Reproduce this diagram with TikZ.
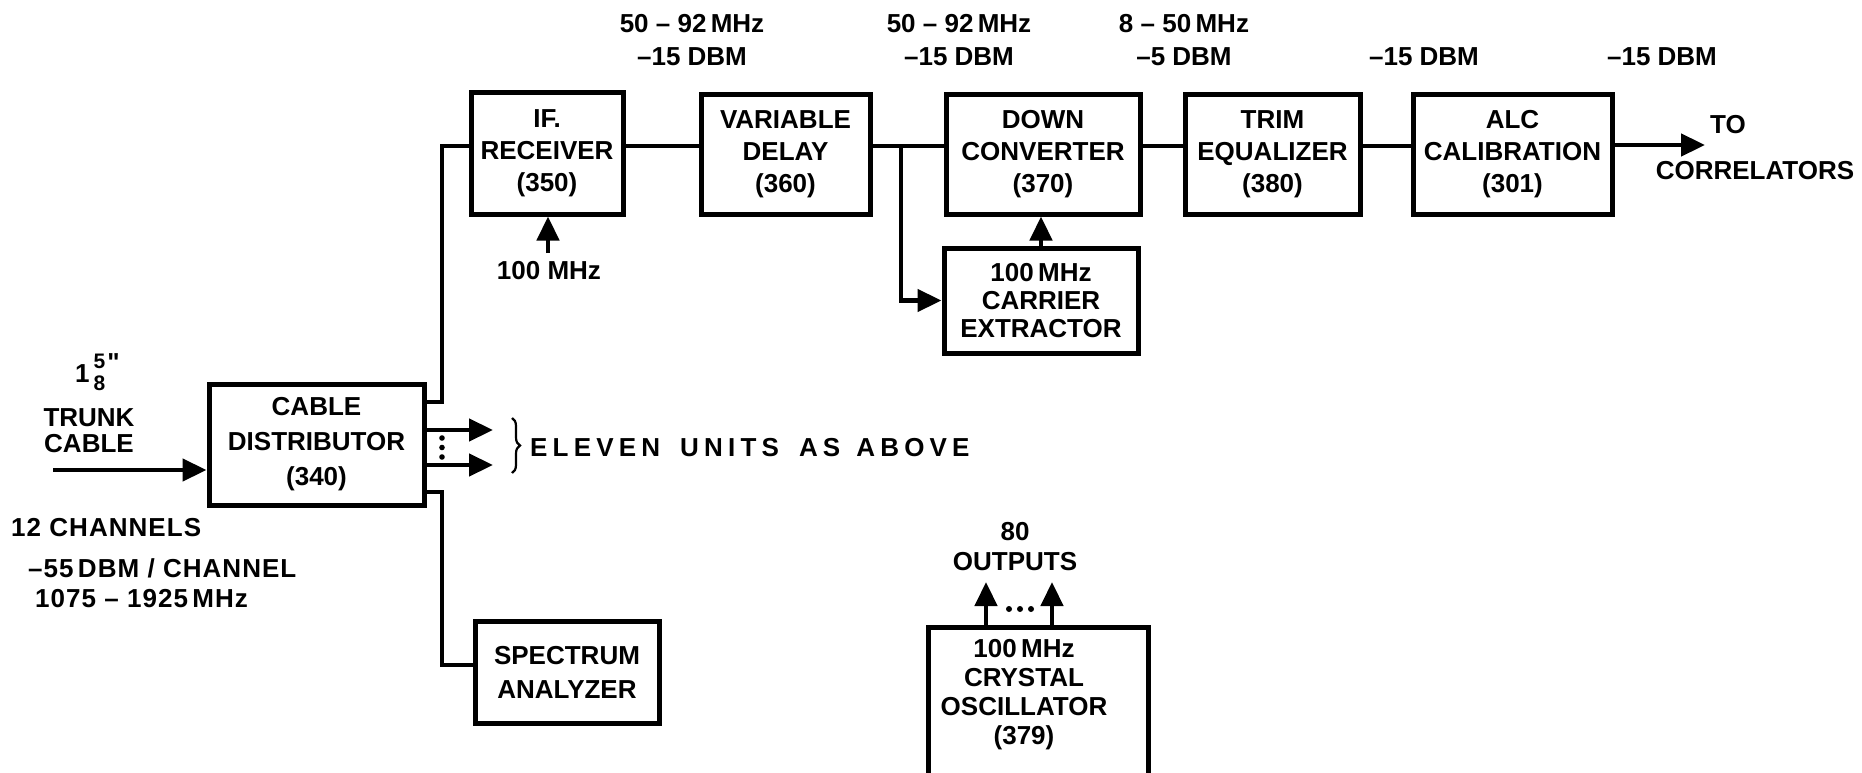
\documentclass[tikz,border=0pt]{standalone}
\usepackage{fontspec}
\setmainfont{Liberation Sans}
\newfontfamily\rawfont{Liberation Sans}
\usetikzlibrary{arrows.meta,decorations.pathreplacing}
\begin{document}
\begin{tikzpicture}[x=1pt,y=-1pt,
  txt/.style={font=\bfseries\fontsize{26}{32}\selectfont},
  box/.style={draw, line width=5pt, align=center, inner sep=0pt, txt},
  lbl/.style={align=center, inner sep=0pt, txt},
  wire/.style={line width=4.5pt},
  arr/.style={wire, -{Triangle[length=24pt,width=22pt]}},
  brc/.style={line width=2.2pt, decorate, decoration={brace, amplitude=8pt}},
]
\useasboundingbox (0,0) rectangle (1862,773);
\clip (0,0) rectangle (1862,773);

% boxes
\node[box, minimum width=215pt, minimum height=121pt, font=\bfseries\fontsize{26}{35}\selectfont] (cd) at (316.5,444.5) {CABLE\\DISTRIBUTOR\\(340)};
\node[box, minimum width=152pt, minimum height=121pt] (ifr) at (547,153.5) {IF.\\RECEIVER\\(350)};
\node[box, minimum width=169pt, minimum height=119pt] (vd) at (785.5,154.5) {VARIABLE\\DELAY\\(360)};
\node[box, minimum width=194pt, minimum height=119pt] (dc) at (1043,154.5) {DOWN\\CONVERTER\\(370)};
\node[box, minimum width=194pt, minimum height=105pt, font=\bfseries\fontsize{26}{28}\selectfont] (ce) at (1041,300.5) {100\,MHz\\CARRIER\\EXTRACTOR};
\node[box, minimum width=175pt, minimum height=119pt] (te) at (1272.5,154.5) {TRIM\\EQUALIZER\\(380)};
\node[box, minimum width=199pt, minimum height=119pt] (alc) at (1512.5,154.5) {ALC\\CALIBRATION\\(301)};
\node[box, minimum width=184pt, minimum height=102pt, font=\bfseries\fontsize{26}{34}\selectfont] (sa) at (567,672) {SPECTRUM\\ANALYZER};
\node[box, minimum width=220pt, minimum height=200pt, anchor=north] (osc) at (1038,625) {};
\node[lbl, font=\bfseries\fontsize{26}{29}\selectfont] (osct) at (1024,695) {100\,MHz\\CRYSTAL\\OSCILLATOR\\(379)};

% labels
\node[lbl, anchor=base west] (size) at (75,382) {1\kern4pt\raisebox{-8pt}{\fontsize{21}{21}\selectfont\shortstack{5\\[4pt]8}}\kern2pt\raisebox{11pt}{\rawfont\bfseries "}};
\node[lbl, font=\bfseries\fontsize{26}{26}\selectfont] (trunk) at (89,431) {TRUNK\\CABLE};
\node[lbl, anchor=base west, font=\bfseries\fontsize{26}{32}\selectfont\addfontfeature{LetterSpace=4}] (ch1) at (11,536) {12 CHANNELS};
\node[lbl, anchor=base west, font=\bfseries\fontsize{26}{32}\selectfont\addfontfeature{LetterSpace=4}] (ch2) at (28,577) {\textendash55\,DBM / CHANNEL};
\node[lbl, anchor=base west, font=\bfseries\fontsize{26}{32}\selectfont\addfontfeature{LetterSpace=4}] (ch3) at (35,607) {1075 \textendash{} 1925\,MHz};
\node[lbl, font=\bfseries\fontsize{26}{33}\selectfont] (l1) at (692,40.5) {50 \textendash{} 92\,MHz\\\textendash15 DBM};
\node[lbl, font=\bfseries\fontsize{26}{33}\selectfont] (l2) at (959,40.5) {50 \textendash{} 92\,MHz\\\textendash15 DBM};
\node[lbl, font=\bfseries\fontsize{26}{33}\selectfont] (l3) at (1184,40.5) {8 \textendash{} 50\,MHz\\\textendash5 DBM};
\node[lbl] (l4) at (1424,57) {\textendash15 DBM};
\node[lbl] (l5) at (1662,57) {\textendash15 DBM};
\node[lbl] (ifmhz) at (549,271) {100 MHz};
\node[lbl] (to1) at (1728,125) {TO};
\node[lbl] (to2) at (1755,171) {CORRELATORS};
\node[lbl, font=\bfseries\fontsize{26}{30}\selectfont] (outs) at (1015,547) {80\\OUTPUTS};
\node[lbl, anchor=west, font=\bfseries\fontsize{26}{32}\selectfont\addfontfeature{LetterSpace=20}] (eleven) at (530,448) {ELEVEN\hspace{20pt}UNITS\hspace{20pt}AS\hspace{16pt}ABOVE};

% coordinates
\coordinate (ly) at (0,146);
\coordinate (in) at (53,470);
\coordinate (up) at (442,146);
\coordinate (dn) at (442,665);
\coordinate (o1) at (493,430);
\coordinate (o2) at (493,465);
\coordinate (br) at (901,146);
\coordinate (out) at (1705,145);
\coordinate (ifin) at (548,253);
\coordinate (oa) at (986,582);
\coordinate (ob) at (1052,582);
\coordinate (b1) at (512,418);
\coordinate (b2) at (512,473);

% connectors
\draw[arr] (in) -- (in -| cd.west);
\draw[wire] (cd.east |- 0,402) -| (up) -- (up -| ifr.west);
\draw[wire] (cd.east |- 0,492) -| (dn) -- (dn -| sa.west);
\draw[arr] (o1 -| cd.east) -- (o1);
\draw[arr] (o2 -| cd.east) -- (o2);
\draw[wire] (ifr.east |- ly) -- (vd.west |- ly);
\draw[wire] (vd.east |- ly) -- (dc.west |- ly);
\draw[arr] (br) |- (ce.west);
\draw[arr] (ce.north) -- (ce.north |- dc.south);
\draw[wire] (dc.east |- ly) -- (te.west |- ly);
\draw[wire] (te.east |- ly) -- (alc.west |- ly);
\draw[arr] (alc.east |- out) -- (out);
\draw[arr] (ifin) -- (ifin |- ifr.south);
\draw[arr] (oa |- osc.north) -- (oa);
\draw[arr] (ob |- osc.north) -- (ob);
\draw[brc] (b1) -- (b2);

% dots
\foreach \yy in {438,447.5,457} \fill (442,\yy) circle (2.8pt);
\foreach \xx in {1009,1020,1031} \fill (\xx,609) circle (3pt);
\end{tikzpicture}
\end{document}
